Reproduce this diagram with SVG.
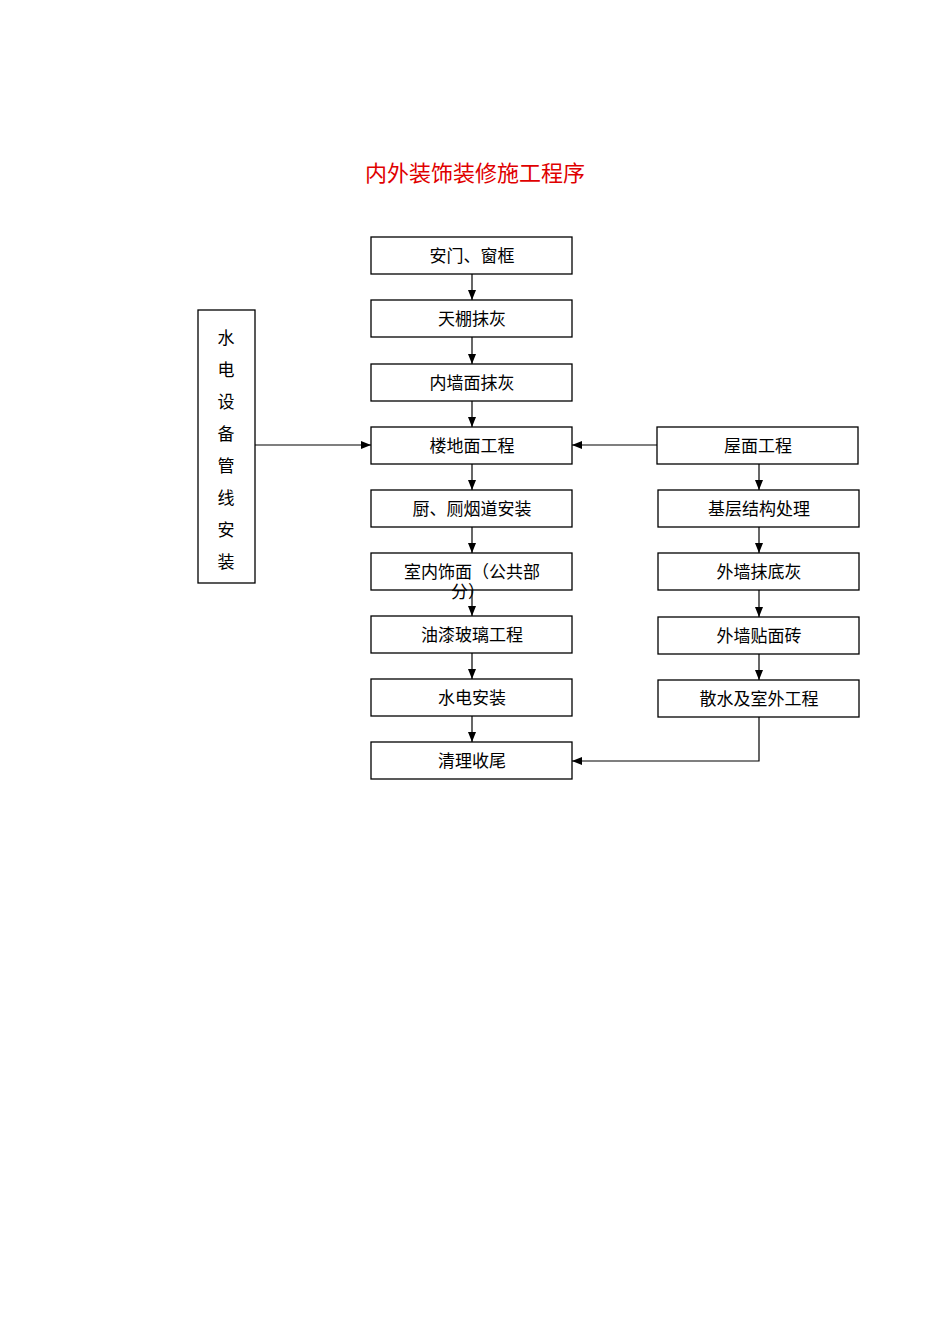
<svg xmlns="http://www.w3.org/2000/svg" width="950" height="1344" viewBox="0 0 950 1344">
<style>
rect{fill:#fff;stroke:#000;stroke-width:1.3}
text{font-family:"Liberation Serif","Noto Sans CJK SC",serif;font-size:17px;text-anchor:middle;fill:#000}
.t{fill:#e00000;font-size:22px}
line,polyline{stroke:#000;stroke-width:1.2;fill:none}
</style>
<defs><marker id="a" markerWidth="10" markerHeight="8" refX="10" refY="4" orient="auto" markerUnits="userSpaceOnUse"><path d="M0,0L10,4L0,8z" fill="#000"/></marker></defs>
<rect width="950" height="1344" style="stroke:none"/>
<text class="t" x="475" y="181">内外装饰装修施工程序</text>
<g id="n1"><rect x="371" y="237" width="201" height="37"/><text x="472" y="262">安门、窗框</text></g>
<g id="n2"><rect x="371" y="300" width="201" height="37"/><text x="472" y="325">天棚抹灰</text></g>
<g id="n3"><rect x="371" y="364" width="201" height="37"/><text x="472" y="389">内墙面抹灰</text></g>
<g id="n4"><rect x="371" y="427" width="201" height="37"/><text x="472" y="452">楼地面工程</text></g>
<g id="n5"><rect x="371" y="490" width="201" height="37"/><text x="472" y="515">厨、厕烟道安装</text></g>
<g id="n6"><rect x="371" y="553" width="201" height="37"/><text x="472" y="578">室内饰面（公共部</text><text x="468" y="598">分）</text></g>
<g id="n7"><rect x="371" y="616" width="201" height="37"/><text x="472" y="641">油漆玻璃工程</text></g>
<g id="n8"><rect x="371" y="679" width="201" height="37"/><text x="472" y="704">水电安装</text></g>
<g id="n9"><rect x="371" y="742" width="201" height="37"/><text x="472" y="767">清理收尾</text></g>
<g id="r1"><rect x="657" y="427" width="201" height="37"/><text x="758" y="452">屋面工程</text></g>
<g id="r2"><rect x="658" y="490" width="201" height="37"/><text x="759" y="515">基层结构处理</text></g>
<g id="r3"><rect x="658" y="553" width="201" height="37"/><text x="759" y="578">外墙抹底灰</text></g>
<g id="r4"><rect x="658" y="617" width="201" height="37"/><text x="759" y="642">外墙贴面砖</text></g>
<g id="r5"><rect x="658" y="680" width="201" height="37"/><text x="759" y="705">散水及室外工程</text></g>
<g id="left"><rect x="198" y="310" width="57" height="273"/>
<text x="226" y="344">水</text><text x="226" y="376">电</text><text x="226" y="408">设</text><text x="226" y="440">备</text><text x="226" y="472">管</text><text x="226" y="504">线</text><text x="226" y="536">安</text><text x="226" y="568">装</text></g>
<g id="connectors" marker-end="url(#a)">
<line x1="472" y1="274" x2="472" y2="300"/>
<line x1="472" y1="337" x2="472" y2="364"/>
<line x1="472" y1="401" x2="472" y2="427"/>
<line x1="472" y1="464" x2="472" y2="490"/>
<line x1="472" y1="527" x2="472" y2="553"/>
<line x1="472" y1="590" x2="472" y2="616"/>
<line x1="472" y1="653" x2="472" y2="679"/>
<line x1="472" y1="716" x2="472" y2="742"/>
<line x1="759" y1="464" x2="759" y2="490"/>
<line x1="759" y1="527" x2="759" y2="553"/>
<line x1="759" y1="590" x2="759" y2="617"/>
<line x1="759" y1="654" x2="759" y2="680"/>
<line x1="255" y1="445" x2="371" y2="445"/>
<line x1="657" y1="445" x2="572" y2="445"/>
<polyline points="759,717 759,761 572,761"/>
</g>
</svg>
